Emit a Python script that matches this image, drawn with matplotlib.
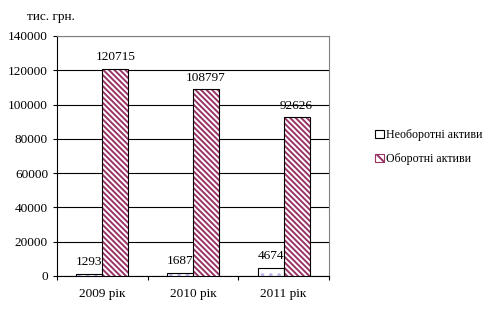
import numpy as np
import matplotlib.pyplot as plt
from matplotlib.patches import Patch

plt.rcParams['font.family'] = ['Liberation Serif', 'DejaVu Serif']
plt.rcParams['hatch.linewidth'] = 1.4

years = ['2009 рік', '2010 рік', '2011 рік']
non_current = [1293, 1687, 4674]
current = [120715, 108797, 92626]
series_names = ['Необоротні активи', 'Оборотні активи']

fig = plt.figure(figsize=(4.96, 3.1), dpi=100)
ax = fig.add_axes([0.115, 0.11, 0.548, 0.774])

x = np.arange(len(years))
w = 0.287
fs = 9.5
stripes = '\\' * 6

# non-current assets: white with a light dotted fill
ax.bar(x - w / 2, non_current, w, color='white', edgecolor='#b8b8e8',
       hatch='..', linewidth=0, zorder=3)
ax.bar(x - w / 2, non_current, w, color='none', edgecolor='black',
       linewidth=0.8, zorder=4)
# current assets: plum diagonal stripes
ax.bar(x + w / 2, current, w, color='white', edgecolor='#993366',
       hatch=stripes, linewidth=0, zorder=3)
ax.bar(x + w / 2, current, w, color='none', edgecolor='black',
       linewidth=0.8, zorder=4)

for xi, v in zip(x, non_current):
    ax.annotate(str(v), (xi - w / 2, v), xytext=(0, 4), textcoords='offset points',
                ha='center', va='bottom', fontsize=fs)
for xi, v in zip(x, current):
    ax.annotate(str(v), (xi + w / 2, v), xytext=(0, 4), textcoords='offset points',
                ha='center', va='bottom', fontsize=fs)

ax.set_ylim(0, 140000)
ax.set_xlim(-0.5, len(years) - 0.5)
ax.set_yticks(np.arange(0, 140001, 20000))
ax.tick_params(axis='y', labelsize=fs, length=3, width=0.8, direction='out')
ax.set_xticks(x)
ax.set_xticklabels(years, fontsize=fs)
ax.set_xticks(np.arange(-0.5, len(years)), minor=True)
ax.tick_params(axis='x', which='major', length=0, pad=9)
ax.tick_params(axis='x', which='minor', length=3, width=0.8, direction='out')

ax.yaxis.grid(True, color='black', linewidth=0.8, zorder=0)
ax.set_axisbelow(True)
for s in ['left', 'bottom']:
    ax.spines[s].set_color('black')
    ax.spines[s].set_linewidth(0.8)
for s in ['top', 'right']:
    ax.spines[s].set_color('#808080')
    ax.spines[s].set_linewidth(0.8)

fig.text(0.055, 0.945, 'тис. грн.', fontsize=fs, ha='left', va='center')

handles = [Patch(facecolor='white', edgecolor='black', linewidth=0.8),
           Patch(facecolor='white', edgecolor='#993366', hatch='\\\\\\', linewidth=0.8)]
fig.legend(handles, series_names, loc='center left', bbox_to_anchor=(0.735, 0.525),
           frameon=False, fontsize=8.6, handlelength=0.7, handleheight=0.7,
           handletextpad=0.2, labelspacing=1.0)

fig.savefig('out.png', dpi=100)
